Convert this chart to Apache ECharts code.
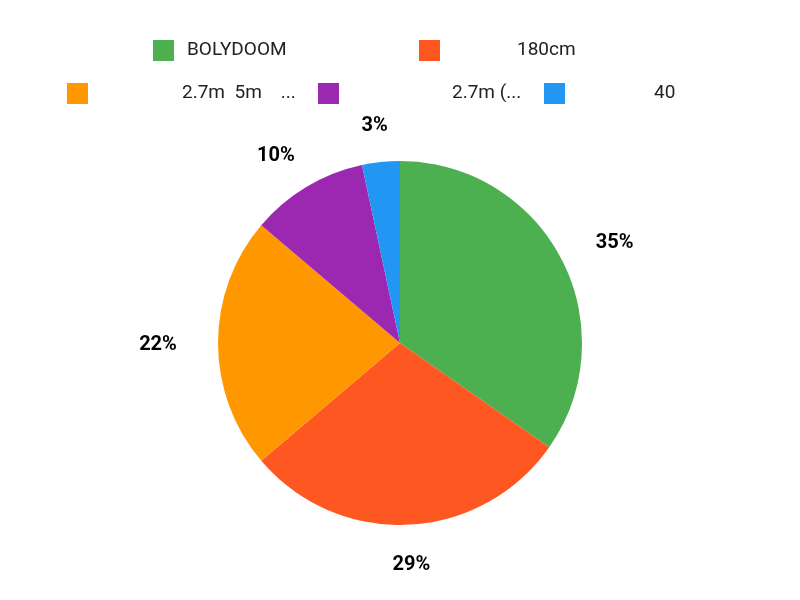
<!DOCTYPE html>
<html lang="en">
<head>
    <meta charset="UTF-8">
    <title>pie</title>
    <script src="https://cdn.jsdelivr.net/npm/echarts@6/dist/echarts.min.js"></script>
    <style>
        html, body { margin: 0; padding: 0; background: #fff; }
        #chart1 { width: 800px; height: 600px; }
    </style>
</head>
<body>
<div id="chart1"></div>
<script>
    var names = ['BOLYDOOM', '180cm', '2.7m  5m    ...', '2.7m (...', '40'];
    var values = [34.7, 29.1, 22.4, 10.45, 3.35];
    var colors = ['#4CAF50', '#FF5722', '#FF9800', '#9C27B0', '#2196F3'];

    // 每个图例单独摆放, 文字前面留白 (原图缺字的地方)
    var legendPos = [[153, 40], [419, 40], [67, 83], [318, 83], [544, 83]];
    var padLeft = [8, 72, 89, 108, 84];

    function legendItem(i) {
        return {
            data: [names[i]],
            left: legendPos[i][0],
            top: legendPos[i][1],
            padding: 0,
            itemWidth: 21,
            itemHeight: 21,
            icon: 'rect',
            selectedMode: false,
            textStyle: {
                padding: [4, 0, 0, padLeft[i]],
                fontSize: 19,
                fontFamily: 'Roboto',
                color: '#222'
            }
        };
    }

    var myChart = echarts.init(document.getElementById('chart1'));
    var option1 = {
        animation: false,
        color: colors,
        legend: names.map(function (n, i) { return legendItem(i); }),
        series: [
            {
                type: 'pie',
                center: ['50%', 343],
                radius: 182,
                startAngle: 90,
                clockwise: true,
                avoidLabelOverlap: false,
                silent: true,
                label: {
                    show: true,
                    position: 'outside',
                    formatter: function (p) {
                        return Math.round(p.percent) + '%';
                    },
                    fontSize: 20,
                    fontWeight: 'bold',
                    fontFamily: 'Roboto',
                    color: '#000'
                },
                labelLine: {show: true, length: 10, length2: 0, lineStyle: {width: 0, opacity: 0}},
                labelLayout: function (p) {
                    var pts = p.labelLinePoints;
                    if (!pts) return {};
                    var a = pts[0], b = pts[1];
                    var dx = b[0] - a[0], dy = b[1] - a[1];
                    var len = Math.sqrt(dx * dx + dy * dy) || 1;
                    var ux = dx / len, uy = dy / len;
                    // 标签放在椭圆上, 横向比纵向远一些
                    return {x: a[0] + ux * 60, y: a[1] + uy * 38 + 2, align: 'center', verticalAlign: 'middle'};
                },
                data: names.map(function (n, i) {
                    return {name: n, value: values[i]};
                })
            }
        ]
    };
    myChart.setOption(option1);
</script>
</body>
</html>
